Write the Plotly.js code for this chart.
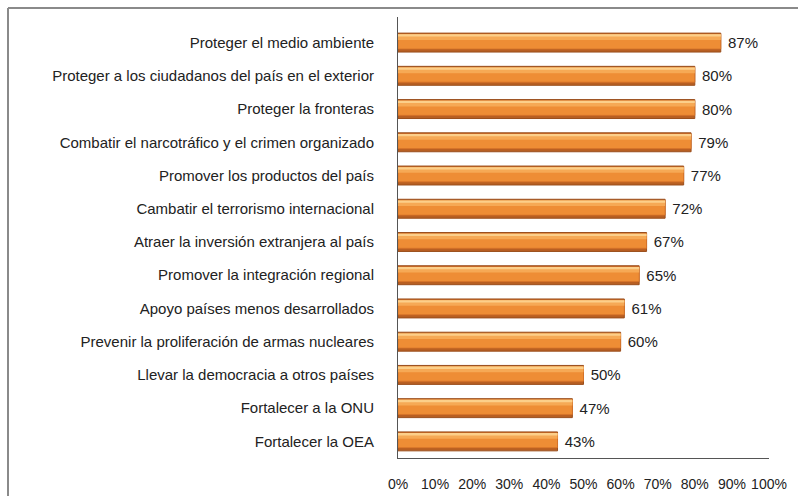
<!DOCTYPE html>
<html>
<head>
<meta charset="utf-8">
<script src="https://cdn.plot.ly/plotly-3.0.1.min.js"></script>
<style>
html,body{margin:0;padding:0;background:#fff;}
#chart{width:798px;height:496px;}
</style>
</head>
<body>
<div id="chart"></div>
<script>
// Data (top to bottom)
const categories = [
  "Proteger el medio ambiente",
  "Proteger a los ciudadanos del país en el exterior",
  "Proteger la fronteras",
  "Combatir el narcotráfico y el crimen organizado",
  "Promover los productos del país",
  "Cambatir el terrorismo internacional",
  "Atraer la inversión extranjera al país",
  "Promover la integración regional",
  "Apoyo países menos desarrollados",
  "Prevenir la proliferación de armas nucleares",
  "Llevar la democracia a otros países",
  "Fortalecer a la ONU",
  "Fortalecer la OEA"
];
const values = [87, 80, 80, 79, 77, 72, 67, 65, 61, 60, 50, 47, 43];
const tickValues = [0, 10, 20, 30, 40, 50, 60, 70, 80, 90, 100];
const tickLabels = ["0%", "10%", "20%", "30%", "40%", "50%", "60%", "70%", "80%", "90%", "100%"];

const FONT = "Liberation Sans, Arial, sans-serif";

function layer(color, offset, width, lineColor, lineWidth, withText) {
  const t = {
    type: "bar",
    orientation: "h",
    x: values,
    y: categories,
    offset: offset,
    width: width,
    marker: {color: color, line: {color: lineColor, width: lineWidth}},
    hoverinfo: "skip",
    showlegend: false
  };
  if (withText) {
    t.text = values.map(v => "\u00a0" + v + "%");
    t.textposition = "outside";
    t.textfont = {family: FONT, size: 15, color: "#222"};
    t.cliponaxis = false;
  } else {
    t.textposition = "none";
  }
  return t;
}

const traces = [
  layer("#b85f22", -0.285, 0.57, "#9a4e1c", 1, true),
  layer("#ee8d35", -0.25, 0.44, "#d8742a", 0.8, false),
  layer("#f6a955", -0.25, 0.17, "rgba(0,0,0,0)", 0, false),
  layer("#fccf8a", -0.25, 0.07, "rgba(0,0,0,0)", 0, false)
];

const layout = {
  width: 798,
  height: 496,
  margin: {l: 398, r: 29, t: 17, b: 38, pad: 0},
  paper_bgcolor: "#ffffff",
  plot_bgcolor: "#ffffff",
  barmode: "overlay",
  font: {family: FONT, color: "#222"},
  xaxis: {
    range: [0, 100],
    tickvals: tickValues,
    ticktext: tickLabels,
    showgrid: false,
    zeroline: false,
    showline: true,
    linecolor: "#555",
    linewidth: 1,
    ticks: "outside",
    ticklen: 13,
    tickcolor: "rgba(0,0,0,0)",
    tickfont: {family: FONT, size: 14, color: "#222"},
    fixedrange: true
  },
  yaxis: {
    type: "category",
    range: [12.5, -0.77],
    showgrid: false,
    zeroline: false,
    showline: true,
    linecolor: "#555",
    linewidth: 1,
    ticks: "outside",
    ticklen: 20,
    tickcolor: "rgba(0,0,0,0)",
    tickfont: {family: FONT, size: 15, color: "#222"},
    fixedrange: true
  },
  shapes: [
    {type: "line", xref: "paper", yref: "paper", x0: -1.0512, x1: 1.09, y0: 1.0204, y1: 1.0204,
     line: {color: "#8a8a8a", width: 2}},
    {type: "line", xref: "paper", yref: "paper", x0: -1.0512, x1: -1.0512, y0: 1.0204, y1: -0.1,
     line: {color: "#8a8a8a", width: 2}}
  ]
};

Plotly.newPlot("chart", traces, layout, {displayModeBar: false, staticPlot: true});
</script>
</body>
</html>
